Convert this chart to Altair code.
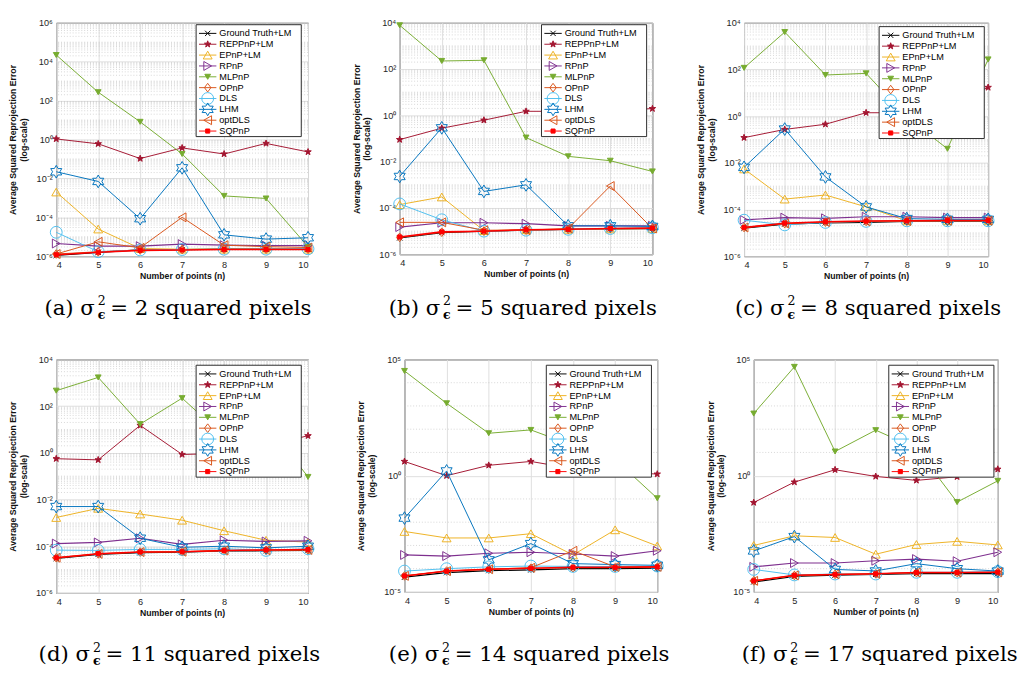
import math
import altair as alt
import pandas as pd

# ---------------- data ----------------
n_points = [4, 5, 6, 7, 8, 9, 10]
methods = ["Ground Truth+LM", "REPPnP+LM", "EPnP+LM", "RPnP", "MLPnP",
           "OPnP", "DLS", "LHM", "optDLS", "SQPnP"]
noise_levels = [2, 5, 8, 11, 14, 17]
panel_letters = ["a", "b", "c", "d", "e", "f"]

# rows follow the order of `methods`
err_a = [
    [1.1e-6, 1.6e-6, 2.1e-6, 2.2e-6, 2.3e-6, 2.3e-6, 2.3e-6],
    [1.07, 0.6, 0.105, 0.37, 0.18, 0.63, 0.23],
    [2e-3, 2.5e-5, 2.5e-6, 2.3e-6, 2.3e-6, 2.3e-6, 2.3e-6],
    [4.5e-6, 3.3e-6, 3.3e-6, 4.2e-6, 3.7e-6, 3.5e-6, 3.5e-6],
    [2.2e4, 270, 8.1, 0.18, 1.26e-3, 9.3e-4, 3.1e-6],
    [1.3e-6, 1.7e-6, 2.1e-6, 2.2e-6, 2.3e-6, 2.3e-6, 2.3e-6],
    [1.7e-5, 1.7e-6, 2.1e-6, 2.2e-6, 2.3e-6, 2.3e-6, 2.4e-6],
    [0.022, 7e-3, 8.5e-5, 0.035, 1.26e-5, 7.6e-6, 8.9e-6],
    [1.3e-6, 5.5e-6, 2.7e-6, 1.0e-4, 3.7e-6, 3.1e-6, 2.8e-6],
    [1.2e-6, 1.6e-6, 2.0e-6, 2.1e-6, 2.2e-6, 2.2e-6, 2.2e-6],
]
err_b = [
    [5.1e-6, 8.7e-6, 1.0e-5, 1.1e-5, 1.2e-5, 1.25e-5, 1.3e-5],
    [0.09, 0.28, 0.62, 1.5, 1.5, 1.6, 1.96],
    [1.4e-4, 3e-4, 1.05e-5, 1.15e-5, 1.2e-5, 1.25e-5, 1.3e-5],
    [1.5e-5, 2.3e-5, 2.3e-5, 2.1e-5, 1.7e-5, 1.7e-5, 1.7e-5],
    [7.8e3, 224, 240, 0.11, 0.017, 0.011, 3.8e-3],
    [5.4e-6, 9e-6, 1.0e-5, 1.1e-5, 1.2e-5, 1.3e-5, 1.35e-5],
    [1.5e-4, 3.1e-5, 1.0e-5, 1.1e-5, 1.2e-5, 1.3e-5, 1.4e-5],
    [2.3e-3, 0.29, 5.2e-4, 1e-3, 1.7e-5, 1.7e-5, 1.6e-5],
    [2.4e-5, 2.4e-5, 1.1e-5, 1.1e-5, 1.3e-5, 8.9e-4, 1.3e-5],
    [5.6e-6, 9.3e-6, 1.0e-5, 1.15e-5, 1.2e-5, 1.3e-5, 1.35e-5],
]
err_c = [
    [1.6e-5, 2.4e-5, 2.7e-5, 2.8e-5, 3.1e-5, 3.1e-5, 3.1e-5],
    [0.12, 0.27, 0.45, 1.4, 1.4, 3.0, 17],
    [5.5e-3, 2.8e-4, 4.2e-4, 1.3e-4, 3.3e-5, 3.3e-5, 3.3e-5],
    [3.6e-5, 4.5e-5, 4.2e-5, 4.9e-5, 4.9e-5, 4.5e-5, 4.5e-5],
    [117, 4e3, 58, 68, 0.9, 0.04, 270],
    [1.7e-5, 2.5e-5, 2.9e-5, 3.1e-5, 3.2e-5, 3.3e-5, 3.3e-5],
    [3.5e-5, 2.2e-5, 2.8e-5, 3.1e-5, 3.3e-5, 3.3e-5, 3.3e-5],
    [6.4e-3, 0.28, 2.5e-3, 1.3e-4, 4.1e-5, 3.8e-5, 3.8e-5],
    [1.7e-5, 2.5e-5, 2.9e-5, 3.1e-5, 3.2e-5, 3.3e-5, 3.3e-5],
    [1.7e-5, 2.6e-5, 3.0e-5, 3.2e-5, 3.3e-5, 3.4e-5, 3.4e-5],
]
err_d = [
    [3e-5, 4.5e-5, 5.3e-5, 5.6e-5, 6.3e-5, 6.4e-5, 6.6e-5],
    [0.56, 0.5, 15, 0.85, 0.95, 2.0, 5.4],
    [1.7e-3, 4.2e-3, 2.4e-3, 1.3e-3, 4.6e-4, 1.8e-4, 1.5e-4],
    [1.3e-4, 1.45e-4, 2.2e-4, 1.2e-4, 1.8e-4, 1.6e-4, 1.7e-4],
    [460, 1.7e3, 17, 220, 5, 20, 0.093],
    [3.2e-5, 4.7e-5, 5.6e-5, 5.8e-5, 6.5e-5, 6.7e-5, 6.9e-5],
    [6.8e-5, 6.6e-5, 7.3e-5, 7.3e-5, 7.8e-5, 6.6e-5, 7.8e-5],
    [5e-3, 5e-3, 2.2e-4, 9e-5, 1e-4, 8.5e-5, 1e-4],
    [3.2e-5, 4.7e-5, 5.6e-5, 5.8e-5, 6.5e-5, 6.7e-5, 6.9e-5],
    [3.2e-5, 4.8e-5, 5.7e-5, 5.8e-5, 6.6e-5, 6.9e-5, 7.2e-5],
]
err_e = [
    [4.3e-5, 6.8e-5, 8.3e-5, 8.9e-5, 1.0e-4, 1.0e-4, 1.05e-4],
    [4.1, 1.0, 2.8, 4.1, 2.0, 1.5, 1.17],
    [4e-3, 2.1e-3, 2.1e-3, 3.2e-3, 3.9e-4, 4.7e-3, 9.5e-4],
    [3.9e-4, 3.5e-4, 4.6e-4, 5.1e-4, 4.3e-4, 3.5e-4, 5.9e-4],
    [3.2e4, 1.3e3, 67, 93, 20, 5, 0.107],
    [4.9e-5, 7.9e-5, 9.5e-5, 1.05e-4, 1.1e-4, 1.1e-4, 1.15e-4],
    [7.9e-5, 1.0e-4, 1.2e-4, 1.3e-4, 1.25e-4, 1.25e-4, 1.3e-4],
    [0.015, 1.6, 2.4e-4, 1.2e-3, 1.65e-4, 1.5e-4, 1.4e-4],
    [4.9e-5, 7.9e-5, 9.5e-5, 1.1e-4, 5.9e-4, 1.2e-4, 1.2e-4],
    [4.9e-5, 7.9e-5, 9.5e-5, 1.05e-4, 1.15e-4, 1.15e-4, 1.2e-4],
]
err_f = [
    [2.7e-5, 4.7e-5, 5.3e-5, 5.7e-5, 6.1e-5, 6.2e-5, 6.2e-5],
    [0.07, 0.53, 1.8, 0.93, 0.63, 0.9, 1.9],
    [1e-3, 2.6e-3, 2.2e-3, 4.2e-4, 1.1e-3, 1.5e-3, 1.05e-3],
    [1.2e-4, 1.75e-4, 1.75e-4, 2.2e-4, 2.6e-4, 2.1e-4, 5.1e-4],
    [470, 4.8e4, 11, 91, 15, 0.073, 0.6],
    [3.0e-5, 5.1e-5, 5.7e-5, 6.0e-5, 6.8e-5, 6.8e-5, 7.0e-5],
    [9.3e-5, 5.4e-5, 5.9e-5, 5.9e-5, 7e-5, 7e-5, 7.5e-5],
    [5.8e-4, 2.4e-3, 9.3e-5, 8e-5, 1.65e-4, 1.0e-4, 7.9e-5],
    [3.0e-5, 5.1e-5, 5.7e-5, 6.0e-5, 6.8e-5, 6.8e-5, 7.0e-5],
    [3.0e-5, 5.2e-5, 5.6e-5, 6.0e-5, 6.9e-5, 6.9e-5, 7.1e-5],
]
err_tables = [err_a, err_b, err_c, err_d, err_e, err_f]

# y-axis decades (exponents) of each panel
y_lo = [-6, -6, -6, -6, -5, -5]
y_hi = [6, 4, 4, 4, 5, 5]
y_step = [2, 2, 2, 2, 5, 5]
dense_minor = [True, True, True, True, False, False]

# ---------------- styles ----------------
colors = ["#000000", "#A2142F", "#EDB120", "#7E2F8E", "#77AC30",
          "#D95319", "#4DBEEE", "#0072BD", "#D95319", "#FF0000"]
fills = ["transparent", "#A2142F", "transparent", "transparent", "#77AC30",
         "transparent", "transparent", "transparent", "transparent", "#FF0000"]


def star_path(n, r_in):
    pts = []
    for k in range(2 * n):
        r = 1.0 if k % 2 == 0 else r_in
        a = math.radians(-90 + k * 180.0 / n)
        pts.append((r * math.cos(a), r * math.sin(a)))
    return "M" + "L".join(f"{x:.3f},{y:.3f}" for x, y in pts) + "Z"


shapes = [
    "M-1,-1L1,1M-1,1L1,-1",
    star_path(5, 0.40),
    "M0,-0.87L1,0.87L-1,0.87Z",
    "M0.87,0L-0.87,1L-0.87,-1Z",
    "M0,0.87L1,-0.87L-1,-0.87Z",
    "M0,-1L0.75,0L0,1L-0.75,0Z",
    "circle",
    star_path(6, 0.577),
    "M-0.87,0L0.87,1L0.87,-1Z",
    "M-1,-1L1,-1L1,1L-1,1Z",
]
sizes = [30, 50, 85, 85, 36, 80, 150, 175, 85, 18]
line_widths = [1.3, 1.0, 1.0, 1.2, 1.0, 1.0, 1.0, 1.0, 1.0, 1.6]

widths = [261, 262, 253, 261, 262, 253]
heights = [242, 240, 242, 242, 241, 241]
cap_off = [61, 63, 61, 71, 72, 72]
cap_x1 = [40, 42, 42, 35, 36, 35]
leg_x = [145, 147, 140, 145, 147, 140]
leg_y = [2, 2, 4, 6, 6, 6]

FONT = "'Liberation Sans', Arial, Helvetica, sans-serif"
SERIF = "'DejaVu Serif', serif"
SUP = str.maketrans("-0123456789", "⁻⁰¹²³⁴⁵⁶⁷⁸⁹")

color_scale = alt.Scale(domain=methods, range=colors)
fill_scale = alt.Scale(domain=methods, range=fills)
shape_scale = alt.Scale(domain=methods, range=shapes)
size_scale = alt.Scale(type="ordinal", domain=methods, range=sizes)

x_scale = alt.Scale(domain=[4, 10], nice=False, zero=False)
x_axis = alt.Axis(values=n_points, title="Number of points (n)", grid=True,
                  gridColor="#dedede", labelFontSize=9.5, labelPadding=4,
                  titleFontSize=9, titleFontWeight="bold", titlePadding=3,
                  labelFont=FONT, titleFont=FONT, format="d")


def make_panel(p):
    errs = err_tables[p]
    W, H = widths[p], heights[p]
    lo, hi, step = y_lo[p], y_hi[p], y_step[p]
    major_exp = list(range(lo, hi + 1, step))
    major = [10.0 ** e for e in major_exp]
    if dense_minor[p]:
        minor = [k * 10.0 ** e for e in range(lo, hi) for k in range(1, 10)
                 if not (k == 1 and (e - lo) % step == 0)]
    else:
        minor = [10.0 ** e for e in range(lo, hi + 1) if (e - lo) % step != 0]
    expr = ""
    for e in major_exp:
        expr += f"abs(log(datum.value)/LN10 - ({e})) < 0.01 ? '10{str(e).translate(SUP)}' : "
    expr += "''"

    y_scale = alt.Scale(type="log", domain=[10.0 ** lo, 10.0 ** hi], nice=False)
    y_axis = alt.Axis(values=major, labelExpr=expr,
                      title=["Average Squared Reprojection Error", "(log-scale)"],
                      grid=True, gridColor="#dedede", labelFontSize=9.5,
                      labelPadding=4, titleFontSize=9, titleFontWeight="bold",
                      titlePadding=5, titleLineHeight=11, minExtent=24,
                      labelFont=FONT, titleFont=FONT)

    grid_layer = alt.Chart(pd.DataFrame({"v": minor})).mark_rule(
        color="#c4c4c4", strokeDash=[1, 2], strokeWidth=0.7
    ).encode(y=alt.Y("v:Q", scale=y_scale, axis=y_axis))

    layers = [grid_layer]
    for mi, m in enumerate(methods):
        df = pd.DataFrame({"n": n_points, "err": errs[mi], "series": m})
        base = alt.Chart(df).encode(
            x=alt.X("n:Q", scale=x_scale, axis=x_axis),
            y=alt.Y("err:Q", scale=y_scale, axis=y_axis),
            color=alt.Color("series:N", scale=color_scale, legend=None),
        )
        layers.append(base.mark_line(strokeWidth=line_widths[mi]))
        layers.append(base.mark_point(filled=False, opacity=1, strokeWidth=1).encode(
            fill=alt.Fill("series:N", scale=fill_scale, legend=None),
            shape=alt.Shape("series:N", scale=shape_scale, legend=None),
            size=alt.Size("series:N", scale=size_scale, legend=None),
        ))
    data_layer = alt.layer(*layers)

    # legend drawn inside the plot, top right
    lx, ly = leg_x[p], leg_y[p]
    leg_df = pd.DataFrame({"series": methods, "idx": list(range(len(methods)))})
    lbase = alt.Chart(leg_df).transform_calculate(
        py=f"{ly + 9} + datum.idx * 11.25"
    )
    ypix = alt.Y("py:Q", scale=None, axis=None)
    box = alt.Chart(pd.DataFrame({"k": [0]})).mark_rect(
        fill="white", stroke="#262626", strokeWidth=1
    ).encode(x=alt.value(lx), x2=alt.value(lx + 109),
             y=alt.value(ly), y2=alt.value(ly + 116))
    lrules = lbase.mark_rule().encode(
        x=alt.value(lx + 3), x2=alt.value(lx + 21), y=ypix,
        color=alt.Color("series:N", scale=color_scale, legend=None),
        strokeWidth=alt.value(1),
    )
    lpts = lbase.mark_point(filled=False, opacity=1, strokeWidth=1).encode(
        x=alt.value(lx + 12), y=ypix,
        color=alt.Color("series:N", scale=color_scale, legend=None),
        fill=alt.Fill("series:N", scale=fill_scale, legend=None),
        shape=alt.Shape("series:N", scale=shape_scale, legend=None),
        size=alt.Size("series:N", scale=size_scale, legend=None),
    )
    ltext = lbase.mark_text(align="left", baseline="middle", font=FONT,
                            fontSize=9.5, color="black").encode(
        x=alt.value(lx + 24), y=ypix, text="series:N")
    legend_layer = alt.layer(box, lrules, lpts, ltext)

    # caption below the panel
    cap_df = pd.DataFrame({
        "left": [f"({panel_letters[p]}) σ"],
        "sup": ["2"],
        "sub": ["ϵ"],
        "right": [f"= {noise_levels[p]} squared pixels"],
    })
    cy = H + cap_off[p]
    x1 = cap_x1[p]
    cbase = alt.Chart(cap_df)
    c_left = cbase.mark_text(align="right", baseline="alphabetic", font=SERIF,
                             fontSize=22, color="black").encode(
        x=alt.value(x1), y=alt.value(cy), text="left:N")
    c_sup = cbase.mark_text(align="left", baseline="alphabetic", font=SERIF,
                            fontSize=13, color="black").encode(
        x=alt.value(x1 + 3), y=alt.value(cy - 10), text="sup:N")
    c_sub = cbase.mark_text(align="left", baseline="alphabetic", font=SERIF,
                            fontSize=13, fontWeight="bold", color="black").encode(
        x=alt.value(x1 + 3), y=alt.value(cy + 4), text="sub:N")
    c_right = cbase.mark_text(align="left", baseline="alphabetic", font=SERIF,
                              fontSize=22, color="black").encode(
        x=alt.value(x1 + 16), y=alt.value(cy), text="right:N")
    caption_layer = alt.layer(c_left, c_sup, c_sub, c_right)

    return alt.layer(data_layer, legend_layer, caption_layer).resolve_scale(
        x="independent", y="independent"
    ).properties(width=W, height=H)


row1 = alt.hconcat(*[make_panel(i) for i in range(3)], spacing=36)
row2 = alt.hconcat(*[make_panel(i) for i in range(3, 6)], spacing=36)
chart = alt.vconcat(row1, row2, spacing=32).properties(
    padding={"left": 0, "top": -3, "right": 0, "bottom": 0}, background="white"
).configure_view(
    stroke="#262626", strokeWidth=1
).configure_axis(
    labelFont=FONT, titleFont=FONT, labelColor="#262626", titleColor="#111111",
    domain=False, ticks=False
).configure_text(
    font=FONT
)

chart.save("out.html", embed_options={"renderer": "svg", "actions": False})
